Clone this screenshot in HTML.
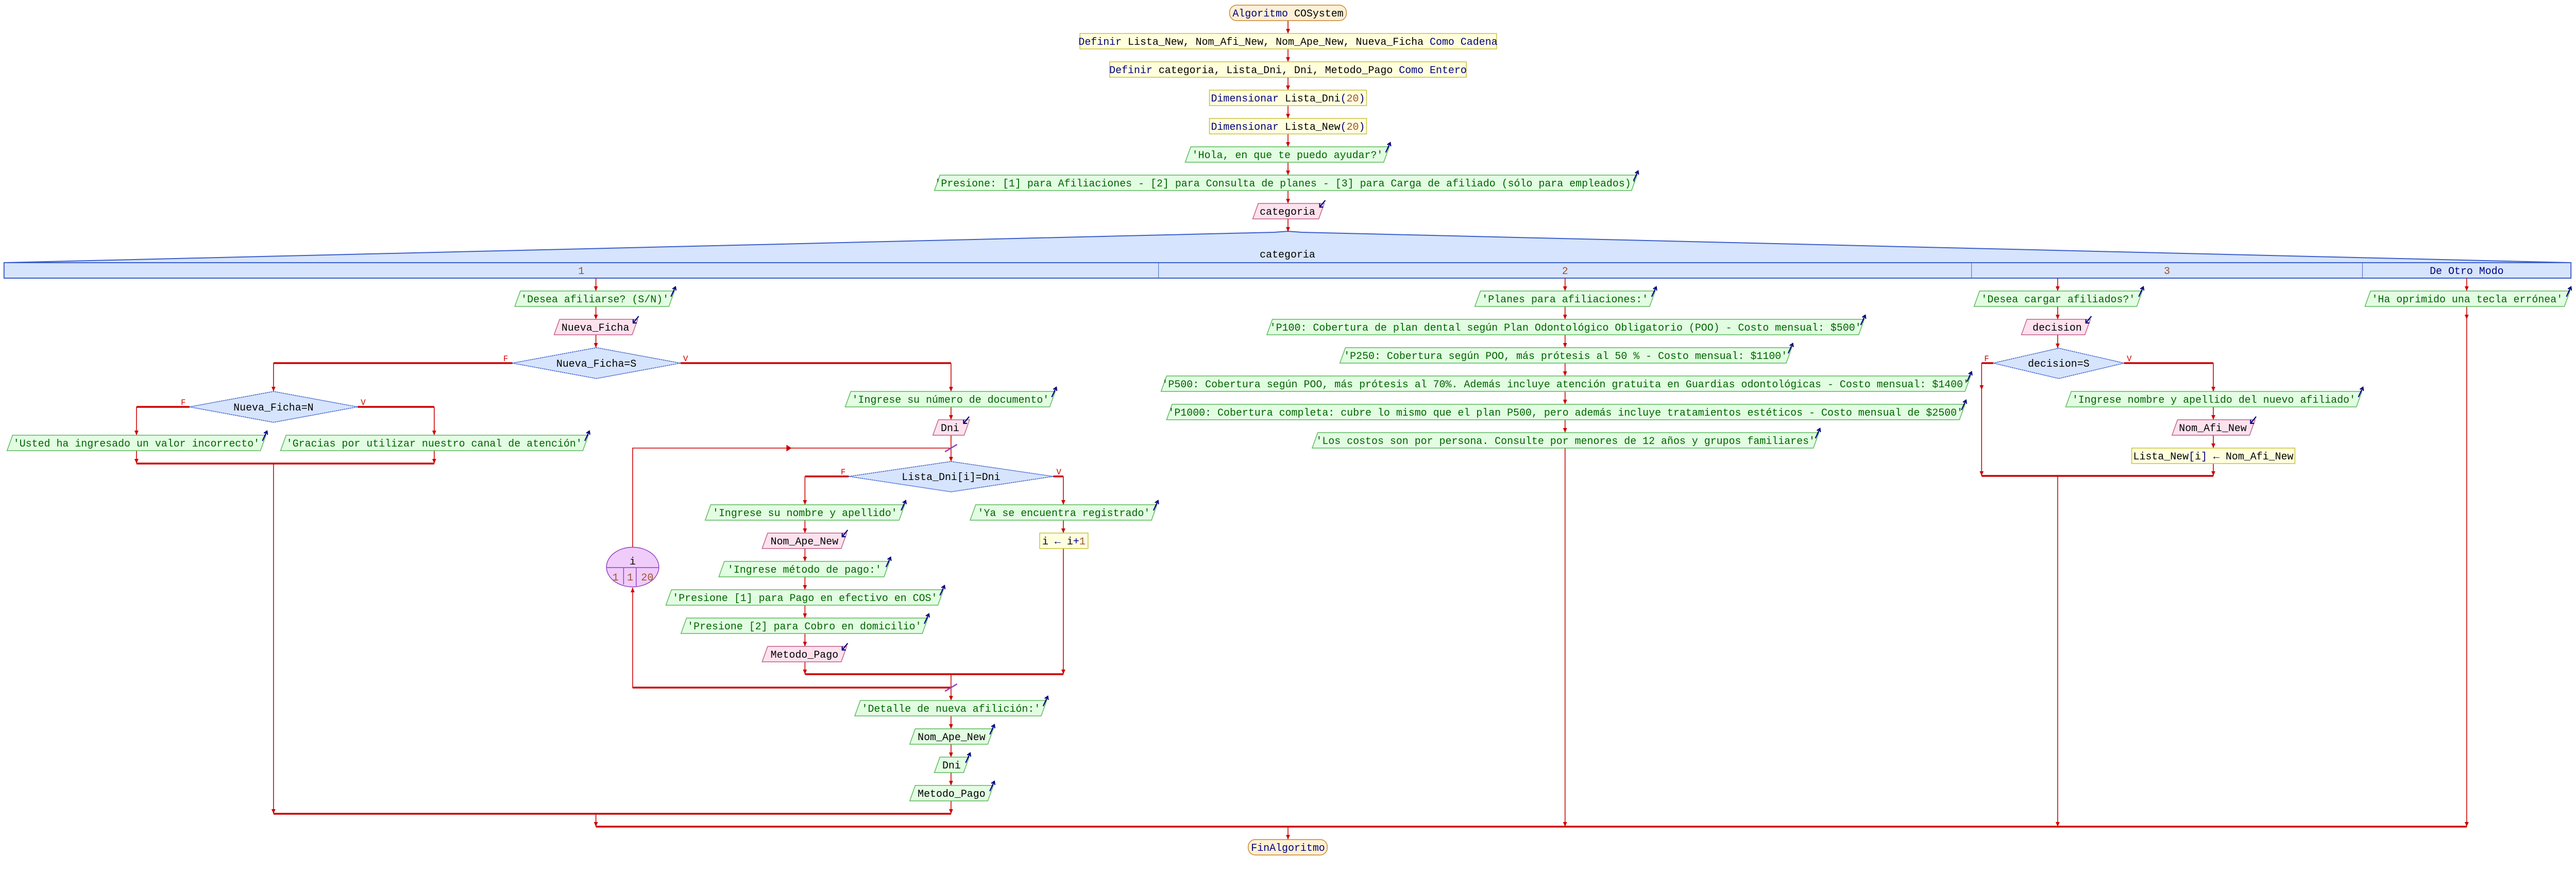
<!DOCTYPE html>
<html><head><meta charset="utf-8"><style>
html,body{margin:0;padding:0;background:#fff;width:100%;height:100%;overflow:hidden;}
svg{display:block;width:100%;height:100%;position:absolute;left:0;top:0;}
text{font-family:"Liberation Mono",monospace;font-size:20.4px;}
.c{text-anchor:middle;}
.g{fill:#006400}.k{fill:#000}.n{fill:#000080}.b{fill:#a0522d}
.out{fill:#e2fde2;stroke:#5cb85c;stroke-width:1.5}
.inp{fill:#fde2ee;stroke:#c0608a;stroke-width:1.5}
.proc{fill:#ffffdd;stroke:#c8c040;stroke-width:1.5}
.term{fill:#fdf0d5;stroke:#c8862a;stroke-width:1.5}
.dia{fill:#d6e4fd;stroke:#3c5fcc;stroke-width:1.5;stroke-dasharray:3 1}
.l{stroke:#cc0000;stroke-width:1.6;fill:none}
.t{stroke:#cc0000;stroke-width:3.5;fill:none}
.lab{font-size:16px;fill:#cc0000}
.ic{stroke:#000080;stroke-width:2.2;fill:none}
</style></head><body>
<svg viewBox="0 0 5114 1695" preserveAspectRatio="none" xmlns="http://www.w3.org/2000/svg">
<defs>
<marker id="a" markerWidth="10" markerHeight="10" refX="9" refY="5" orient="auto" markerUnits="userSpaceOnUse" viewBox="0 0 10 10">
<path d="M0,1 L9,5 L0,9 Z" fill="#cc0000"/></marker>
</defs>
<style>.ar{marker-end:url(#a)}</style>

<!-- switch header -->
<polygon points="8,510 2530,451 2557,449 2584,451 5104,510 5104,540 8,540" fill="#d6e4fd" stroke="#3c5fcc" stroke-width="2"/>
<line x1="8" y1="510" x2="5104" y2="510" stroke="#3c5fcc" stroke-width="2"/>
<line x1="2300" y1="510" x2="2300" y2="540" stroke="#3c5fcc" stroke-width="1"/>
<line x1="3914" y1="510" x2="3914" y2="540" stroke="#3c5fcc" stroke-width="1"/>
<line x1="4690" y1="510" x2="4690" y2="540" stroke="#3c5fcc" stroke-width="1"/>
<text x="2556" y="500" class="c k">categoria</text>
<text x="1154" y="532" class="c b">1</text>
<text x="3107" y="532" class="c b">2</text>
<text x="4302" y="532" class="c b">3</text>
<text x="4897" y="532" class="c n">De Otro Modo</text>

<!-- connectors -->
<g class="l">
<path class="ar" d="M2557 40V65"/><path class="ar" d="M2557 95V120"/><path class="ar" d="M2557 150V175"/><path class="ar" d="M2557 205V230"/><path class="ar" d="M2557 260V285"/><path class="ar" d="M2557 315V340"/><path class="ar" d="M2557 370V395"/><path class="ar" d="M2557 425V450"/>
<path class="ar" d="M1183 540V565"/><path class="ar" d="M1183 595V620"/><path class="ar" d="M1183 650V675"/>
<path class="ar" d="M543 705V760"/><path class="ar" d="M271 790V845"/><path class="ar" d="M862 790V845"/>
<path class="ar" d="M271 875V900"/><path class="ar" d="M862 875V900"/><path class="ar" d="M543 900V1580"/>
<path class="ar" d="M1888 705V760"/><path class="ar" d="M1888 790V815"/><path class="ar" d="M1888 845V896"/>
<path d="M1256 1063V870H1888"/><path d="M1562 865L1570 870L1562 875Z" fill="#cc0000"/>
<path class="ar" d="M1598 925V980"/><path class="ar" d="M2111 925V980"/>
<path class="ar" d="M1598 1010V1035"/><path class="ar" d="M1598 1065V1090"/><path class="ar" d="M1598 1120V1145"/><path class="ar" d="M1598 1175V1200"/><path class="ar" d="M1598 1230V1255"/><path class="ar" d="M1598 1285V1309"/>
<path class="ar" d="M2111 1010V1035"/><path class="ar" d="M2111 1065V1309"/>
<path class="ar" d="M1888 1309V1360"/>
<path class="ar" d="M1888 1335H1256V1141"/>
<path class="ar" d="M1888 1390V1415"/><path class="ar" d="M1888 1445V1470"/><path class="ar" d="M1888 1500V1525"/><path class="ar" d="M1888 1555V1580"/>
<path class="ar" d="M1183 1580V1605"/>
<path class="ar" d="M3107 540V565"/><path class="ar" d="M3107 595V620"/><path class="ar" d="M3107 650V675"/><path class="ar" d="M3107 705V730"/><path class="ar" d="M3107 760V785"/><path class="ar" d="M3107 815V840"/><path class="ar" d="M3107 870V1605"/>
<path class="ar" d="M4085 540V565"/><path class="ar" d="M4085 595V620"/><path class="ar" d="M4085 650V676"/>
<path class="ar" d="M3934 705V757"/><path class="ar" d="M3934 757V924"/>
<path class="ar" d="M4394 705V760"/><path class="ar" d="M4394 790V815"/><path class="ar" d="M4394 845V870"/><path class="ar" d="M4394 900V924"/>
<path class="ar" d="M4085 924V1605"/>
<path class="ar" d="M4897 540V565"/><path class="ar" d="M4897 595V620"/><path class="ar" d="M4897 620V1605"/>
<path class="ar" d="M2557 1605V1630"/>
</g>
<g class="t">
<path d="M1017 705H543"/><path d="M1351 705H1888"/>
<path d="M376 790H271"/><path d="M710 790H862"/>
<path d="M271 900H862"/>
<path d="M1685 925H1598"/><path d="M2091 925H2111"/>
<path d="M1598 1309H2111"/>
<path d="M1888 1335H1256"/>
<path d="M543 1580H1888"/>
<path d="M1183 1605H4897"/>
<path d="M3957 705H3934"/><path d="M4217 705H4394"/>
<path d="M3934 924H4394"/>
</g>
<g stroke="#9040c0" stroke-width="2.5">
<line x1="1876" y1="877" x2="1900" y2="863"/>
<line x1="1876" y1="1342" x2="1900" y2="1328"/>
</g>

<!-- labels F/V -->
<text x="1004" y="701" class="lab c">F</text><text x="1361" y="701" class="lab c">V</text>
<text x="364" y="786" class="lab c">F</text><text x="721" y="786" class="lab c">V</text>
<text x="1674" y="921" class="lab c">F</text><text x="2102" y="921" class="lab c">V</text>
<text x="3944" y="701" class="lab c">F</text><text x="4227" y="701" class="lab c">V</text>

<!-- terminals -->
<rect x="2441" y="10" width="232" height="30" rx="14" class="term"/>
<text x="2557" y="32" class="c"><tspan class="n">Algoritmo</tspan> <tspan class="k">COSystem</tspan></text>
<rect x="2478" y="1630" width="157" height="30" rx="14" class="term"/>
<text x="2557" y="1652" class="c n">FinAlgoritmo</text>

<!-- processes -->
<rect x="2144" y="65" width="827" height="30" class="proc"/>
<text x="2557" y="87" class="c"><tspan class="n">Definir</tspan><tspan class="k"> Lista_New, Nom_Afi_New, Nom_Ape_New, Nueva_Ficha </tspan><tspan class="n">Como Cadena</tspan></text>
<rect x="2203" y="120" width="708" height="30" class="proc"/>
<text x="2557" y="142" class="c"><tspan class="n">Definir</tspan><tspan class="k"> categoria, Lista_Dni, Dni, Metodo_Pago </tspan><tspan class="n">Como Entero</tspan></text>
<rect x="2401" y="175" width="312" height="30" class="proc"/>
<text x="2557" y="197" class="c"><tspan class="n">Dimensionar </tspan><tspan class="k">Lista_Dni</tspan><tspan class="n">(</tspan><tspan class="b">20</tspan><tspan class="n">)</tspan></text>
<rect x="2401" y="230" width="312" height="30" class="proc"/>
<text x="2557" y="252" class="c"><tspan class="n">Dimensionar </tspan><tspan class="k">Lista_New</tspan><tspan class="n">(</tspan><tspan class="b">20</tspan><tspan class="n">)</tspan></text>
<rect x="2064" y="1035" width="96" height="30" class="proc"/>
<text x="2112" y="1057" class="c"><tspan class="k">i </tspan><tspan class="n">←</tspan><tspan class="k"> i</tspan><tspan class="n">+</tspan><tspan class="b">1</tspan></text>
<rect x="4232" y="870" width="324" height="30" class="proc"/>
<text x="4394" y="892" class="c"><tspan class="k">Lista_New</tspan><tspan class="n">[</tspan><tspan class="k">i</tspan><tspan class="n">] ← </tspan><tspan class="k">Nom_Afi_New</tspan></text>

<!-- diamonds -->
<polygon points="1017,705 1184,675 1351,705 1184,735" class="dia"/>
<text x="1184" y="712" class="c k">Nueva_Ficha=S</text>
<polygon points="376,790 543,760 710,790 543,820" class="dia"/>
<text x="543" y="797" class="c k">Nueva_Ficha=N</text>
<polygon points="1685,925 1888,896 2091,925 1888,955" class="dia"/>
<text x="1888" y="932" class="c k">Lista_Dni[i]=Dni</text>
<polygon points="3957,705 4087,676 4217,705 4087,735" class="dia"/>
<text x="4087" y="712" class="c k">decision=S</text>

<!-- loop -->
<ellipse cx="1256" cy="1101" rx="52" ry="38.5" fill="#f0ccfa" stroke="#9040c0" stroke-width="1.5"/>
<line x1="1204" y1="1102" x2="1308" y2="1102" stroke="#9040c0" stroke-width="1.5"/>
<line x1="1238" y1="1102" x2="1238" y2="1135" stroke="#9040c0" stroke-width="1.5"/>
<line x1="1263" y1="1102" x2="1263" y2="1138" stroke="#9040c0" stroke-width="1.5"/>
<text x="1256" y="1096" class="c k">i</text>
<text x="1222" y="1127" class="c b">1</text><text x="1251" y="1127" class="c b">1</text><text x="1285" y="1127" class="c b">20</text>

<!-- outputs -->
<g id="outs">
<polygon class="out" points="2364,285 2758,285 2747,315 2353,315"/><text x="2556" y="307" class="c g">'Hola, en que te puedo ayudar?'</text>
<polygon class="out" points="1866,340 3250,340 3239,370 1855,370"/><text x="2553" y="362" class="c g">'Presione: [1] para Afiliaciones - [2] para Consulta de planes - [3] para Carga de afiliado (sólo para empleados)'</text>
<polygon class="out" points="1033,565 1339,565 1328,595 1022,595"/><text x="1181" y="587" class="c g">'Desea afiliarse? (S/N)'</text>
<polygon class="out" points="25,845 528,845 517,875 14,875"/><text x="271" y="867" class="c g">'Usted ha ingresado un valor incorrecto'</text>
<polygon class="out" points="568,845 1168,845 1157,875 557,875"/><text x="862" y="867" class="c g">'Gracias por utilizar nuestro canal de atención'</text>
<polygon class="out" points="1689,760 2095,760 2084,790 1678,790"/><text x="1887" y="782" class="c g">'Ingrese su número de documento'</text>
<polygon class="out" points="1411,980 1796,980 1785,1010 1400,1010"/><text x="1598" y="1002" class="c g">'Ingrese su nombre y apellido'</text>
<polygon class="out" points="1438,1090 1766,1090 1755,1120 1427,1120"/><text x="1597" y="1112" class="c g">'Ingrese método de pago:'</text>
<polygon class="out" points="1333,1145 1873,1145 1862,1175 1322,1175"/><text x="1598" y="1167" class="c g">'Presione [1] para Pago en efectivo en COS'</text>
<polygon class="out" points="1363,1200 1842,1200 1831,1230 1352,1230"/><text x="1597" y="1222" class="c g">'Presione [2] para Cobro en domicilio'</text>
<polygon class="out" points="1937,980 2297,980 2286,1010 1926,1010"/><text x="2112" y="1002" class="c g">'Ya se encuentra registrado'</text>
<polygon class="out" points="1708,1360 2078,1360 2067,1390 1697,1390"/><text x="1888" y="1382" class="c g">'Detalle de nueva afilición:'</text>
<polygon class="out" points="1817,1415 1972,1415 1961,1445 1806,1445"/><text x="1889" y="1437" class="c k">Nom_Ape_New</text>
<polygon class="out" points="1866,1470 1924,1470 1913,1500 1855,1500"/><text x="1889" y="1492" class="c k">Dni</text>
<polygon class="out" points="1817,1525 1972,1525 1961,1555 1806,1555"/><text x="1889" y="1547" class="c k">Metodo_Pago</text>
<polygon class="out" points="2939,565 3286,565 3275,595 2928,595"/><text x="3107" y="587" class="c g">'Planes para afiliaciones:'</text>
<polygon class="out" points="2526,620 3701,620 3690,650 2515,650"/><text x="3108" y="642" class="c g">'P100: Cobertura de plan dental según Plan Odontológico Obligatorio (POO) - Costo mensual: $500'</text>
<polygon class="out" points="2671,675 3557,675 3546,705 2660,705"/><text x="3108" y="697" class="c g">'P250: Cobertura según POO, más prótesis al 50 % - Costo mensual: $1100'</text>
<polygon class="out" points="2316,730 3912,730 3901,760 2305,760"/><text x="3108" y="752" class="c g">'P500: Cobertura según POO, más prótesis al 70%. Además incluye atención gratuita en Guardias odontológicas - Costo mensual: $1400'</text>
<polygon class="out" points="2327,785 3901,785 3890,815 2316,815"/><text x="3108" y="807" class="c g">'P1000: Cobertura completa: cubre lo mismo que el plan P500, pero además incluye tratamientos estéticos - Costo mensual de $2500'</text>
<polygon class="out" points="2616,840 3611,840 3600,870 2605,870"/><text x="3108" y="862" class="c g">'Los costos son por persona. Consulte por menores de 12 años y grupos familiares'</text>
<polygon class="out" points="3930,565 4253,565 4242,595 3919,595"/><text x="4086" y="587" class="c g">'Desea cargar afiliados?'</text>
<polygon class="out" points="4112,760 4689,760 4678,790 4101,790"/><text x="4395" y="782" class="c g">'Ingrese nombre y apellido del nuevo afiliado'</text>
<polygon class="out" points="4706,565 5102,565 5091,595 4695,595"/><text x="4898" y="587" class="c g">'Ha oprimido una tecla errónea'</text>
</g>
<!-- output icons -->
<g class="ic">
<path d="M2751 296L2760 277M2754 281L2760 277L2761 284"/>
<path d="M3243 351L3252 332M3246 336L3252 332L3253 339"/>
<path d="M1332 576L1341 557M1335 561L1341 557L1342 564"/>
<path d="M521 856L530 837M524 841L530 837L531 844"/>
<path d="M1161 856L1170 837M1164 841L1170 837L1171 844"/>
<path d="M2088 771L2097 752M2091 756L2097 752L2098 759"/>
<path d="M1789 991L1798 972M1792 976L1798 972L1799 979"/>
<path d="M1759 1101L1768 1082M1762 1086L1768 1082L1769 1089"/>
<path d="M1866 1156L1875 1137M1869 1141L1875 1137L1876 1144"/>
<path d="M1835 1211L1844 1192M1838 1196L1844 1192L1845 1199"/>
<path d="M2290 991L2299 972M2293 976L2299 972L2300 979"/>
<path d="M2071 1371L2080 1352M2074 1356L2080 1352L2081 1359"/>
<path d="M1965 1426L1974 1407M1968 1411L1974 1407L1975 1414"/>
<path d="M1917 1481L1926 1462M1920 1466L1926 1462L1927 1469"/>
<path d="M1965 1536L1974 1517M1968 1521L1974 1517L1975 1524"/>
<path d="M3279 576L3288 557M3282 561L3288 557L3289 564"/>
<path d="M3694 631L3703 612M3697 616L3703 612L3704 619"/>
<path d="M3550 686L3559 667M3553 671L3559 667L3560 674"/>
<path d="M3905 741L3914 722M3908 726L3914 722L3915 729"/>
<path d="M3894 796L3903 777M3897 781L3903 777L3904 784"/>
<path d="M3604 851L3613 832M3607 836L3613 832L3614 839"/>
<path d="M4246 576L4255 557M4249 561L4255 557L4256 564"/>
<path d="M4682 771L4691 752M4685 756L4691 752L4692 759"/>
<path d="M5095 576L5104 557M5098 561L5104 557L5105 564"/>
</g>

<!-- inputs -->
<polygon class="inp" points="2498,395 2629,395 2618,425 2487,425"/><text x="2556" y="417" class="c k">categoria</text>
<polygon class="inp" points="1111,620 1266,620 1255,650 1100,650"/><text x="1182" y="642" class="c k">Nueva_Ficha</text>
<polygon class="inp" points="1863,815 1925,815 1914,845 1852,845"/><text x="1886" y="837" class="c k">Dni</text>
<polygon class="inp" points="1524,1035 1681,1035 1670,1065 1513,1065"/><text x="1597" y="1057" class="c k">Nom_Ape_New</text>
<polygon class="inp" points="1524,1255 1681,1255 1670,1285 1513,1285"/><text x="1597" y="1277" class="c k">Metodo_Pago</text>
<polygon class="inp" points="4024,620 4150,620 4139,650 4013,650"/><text x="4084" y="642" class="c k">decision</text>
<polygon class="inp" points="4323,815 4477,815 4466,845 4312,845"/><text x="4393" y="837" class="c k">Nom_Afi_New</text>
<g class="ic">
<path d="M2631 389L2620 402M2620 395L2620 402L2627 402"/>
<path d="M1268 614L1257 627M1257 620L1257 627L1264 627"/>
<path d="M1924 809L1913 822M1913 815L1913 822L1920 822"/>
<path d="M1683 1029L1672 1042M1672 1035L1672 1042L1679 1042"/>
<path d="M1683 1249L1672 1262M1672 1255L1672 1262L1679 1262"/>
<path d="M4152 614L4141 627M4141 620L4141 627L4148 627"/>
<path d="M4479 809L4468 822M4468 815L4468 822L4475 822"/>
</g>
</svg>
</body></html>
